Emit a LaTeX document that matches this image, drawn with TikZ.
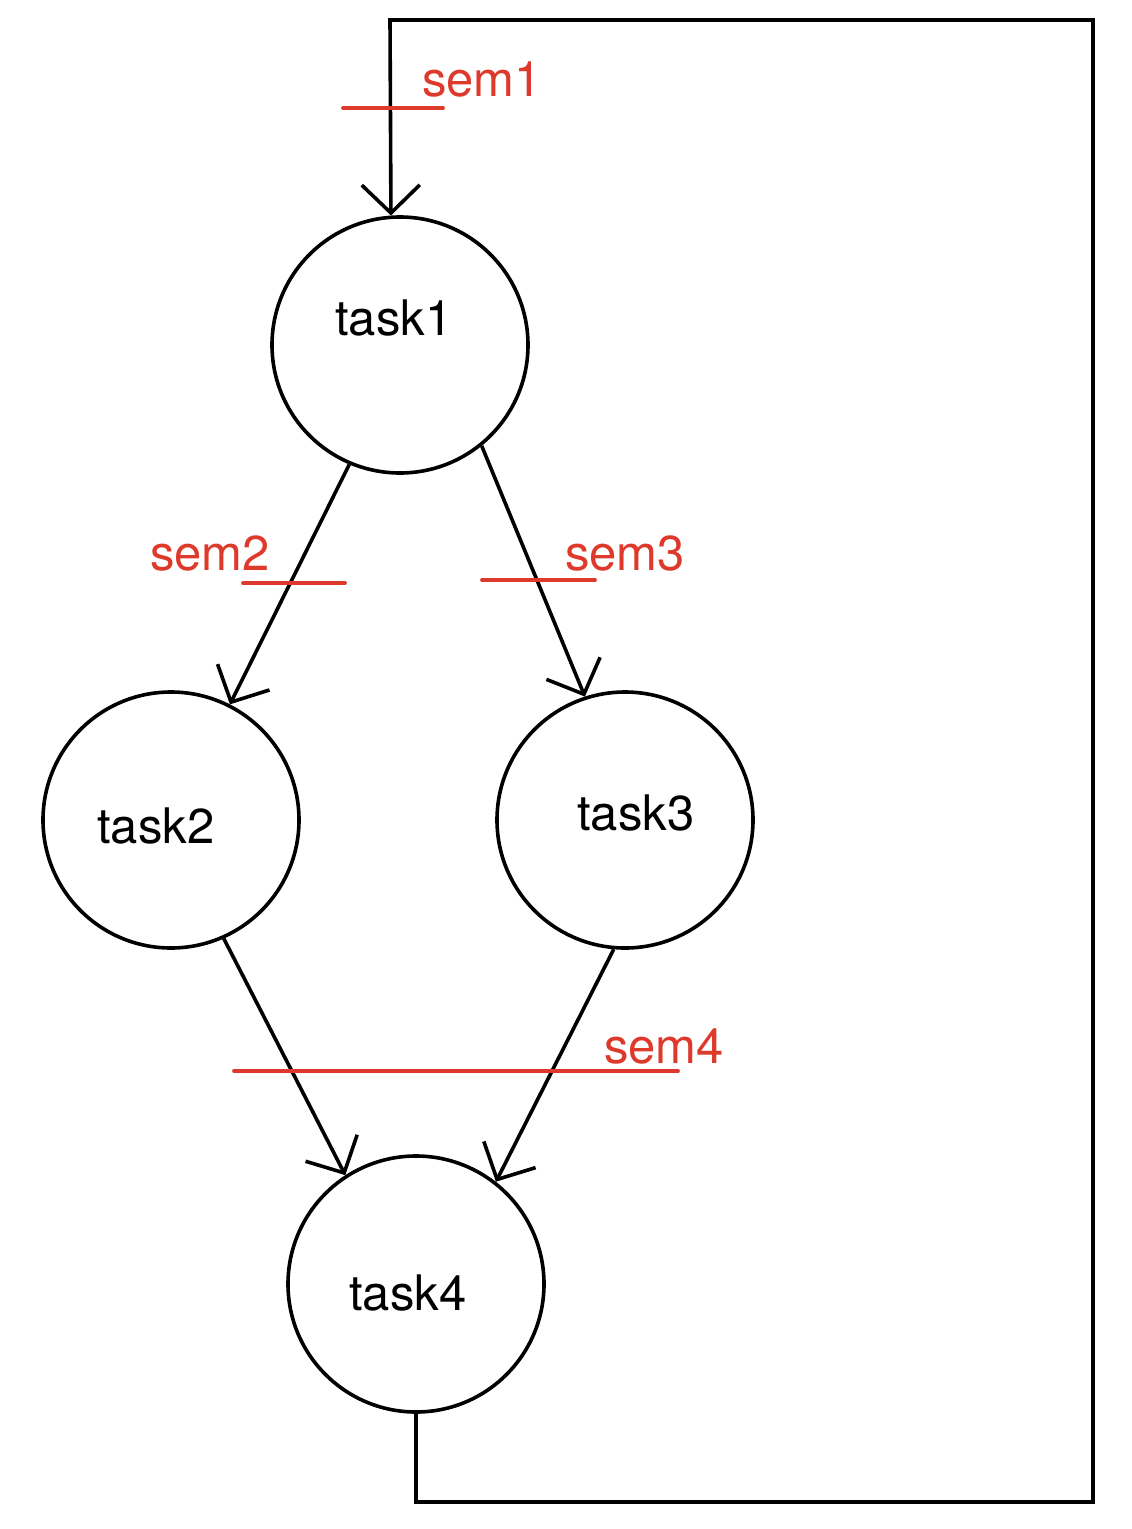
\documentclass[tikz,border=0pt]{standalone}
\usepackage{fontspec}
\setmainfont{TeX Gyre Heros}
\usetikzlibrary{arrows.meta}
\definecolor{semred}{RGB}{222,58,44}
\begin{document}
\begin{tikzpicture}[x=1pt,y=-1pt,
  task/.style={circle,draw=black,line width=3.6pt,minimum size=256pt,inner sep=0pt},
  tasktext/.style={anchor=base west,inner sep=0pt,font=\fontsize{49}{53}\selectfont,text=black},
  semtext/.style={anchor=base west,inner sep=0pt,font=\fontsize{49}{53}\selectfont,text=semred},
  flow/.style={draw=black,line width=3.6pt,-{Straight Barb[length=28pt,width=58pt,line width=3.6pt]}},
  sembar/.style={draw=semred,line width=3.8pt,line cap=round}]
\useasboundingbox (0,0) rectangle (1132,1529);
\fill[white] (0,0) rectangle (1132,1529);
% task circles
\node[task] (t1) at (400,345) {};
\node[task] (t2) at (171,820) {};
\node[task] (t3) at (625,820) {};
\node[task] (t4) at (416,1284) {};
% task labels
\node[tasktext] (l1) at (335,335) {task1};
\node[tasktext] (l2) at (97,843) {task2};
\node[tasktext] (l3) at (577,830) {task3};
\node[tasktext] (l4) at (349,1310) {task4};
% connectors
\draw[flow] (t1.-113) -- (t2.63);
\draw[flow] (t1.-51) -- (t3.108);
\draw[flow] (t2.-66) -- (t4.123);
\draw[flow] (t3.-95) -- (t4.52.5);
\coordinate (br) at (1093,1502);
\coordinate (tr) at (1093,20);
\coordinate (tl) at (390,20);
\draw[flow,line join=miter] (t4.south) |- (br) -- (tr) -- (tl) -- (t1.94.5);
% semaphore bars
\coordinate (s1a) at (343,108); \coordinate (s1b) at (443,108);
\coordinate (s2a) at (243,583); \coordinate (s2b) at (345,583);
\coordinate (s3a) at (482,580); \coordinate (s3b) at (595,580);
\coordinate (s4a) at (234,1071); \coordinate (s4b) at (678,1071);
\draw[sembar] (s1a) -- (s1b);
\draw[sembar] (s2a) -- (s2b);
\draw[sembar] (s3a) -- (s3b);
\draw[sembar] (s4a) -- (s4b);
% semaphore labels
\node[semtext] (m1) at (422,96) {sem1};
\node[semtext] (m2) at (150,570) {sem2};
\node[semtext] (m3) at (565,570) {sem3};
\node[semtext] (m4) at (604,1063) {sem4};
\end{tikzpicture}
\end{document}
